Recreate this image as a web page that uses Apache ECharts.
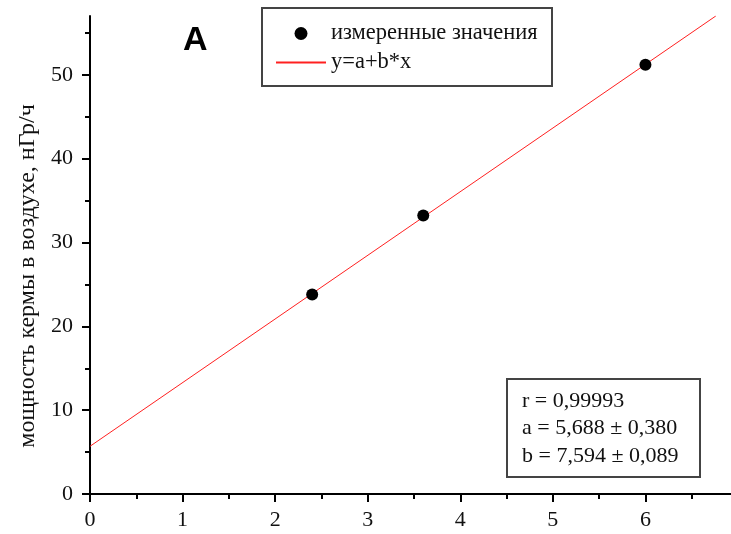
<!DOCTYPE html>
<html>
<head>
<meta charset="utf-8">
<script type="text/javascript" src="https://cdn.jsdelivr.net/npm/echarts@6/dist/echarts.min.js"></script>
<style>
	html, body {
		margin: 0;
		padding: 0;
		background: #fff;
	}
	.chart-main {
		width: 731px;
		height: 534px;
	}
</style>
</head>
<body>
<div class="chart-main" id="main"></div>
<script>
	// measured points
	var measX = [2.4, 3.6, 6.0];
	var measY = [23.8, 33.2, 51.2];

	// fitted line y=a+b*x, ends
	var fitX = [0, 6.76];
	var fitY = [5.69, 57.0];

	var statLines = ['r = 0,99993', 'a = 5,688 \u00b1 0,380', 'b = 7,594 \u00b1 0,089'];
	var legendNames = ['измеренные значения', 'y=a+b*x'];
	var yTitle = 'мощность кермы в воздухе, нГр/ч';

	var serif = '"Liberation Serif", "DejaVu Serif", serif';
	var txtColor = '#111';

	var measData = measX.map(function(x, i) { return [x, measY[i]]; });
	var fitData = fitX.map(function(x, i) { return [x, fitY[i]]; });

	var option = {
		backgroundColor: '#fff',
		animation: false,
		grid: [
			// grid 0: axis line of y ends at 57, series drawn here
			{ left: 90, right: -7, top: 16, bottom: 40, outerBoundsMode: 'none', containLabel: false },
			// grid 1: same scale, taller, carries y ticks and labels
			{ left: 90, right: -7, top: -9, bottom: 40, outerBoundsMode: 'none', containLabel: false }
		],
		xAxis: [{
			type: 'value',
			gridIndex: 0,
			min: 0,
			max: 7,
			interval: 1,
			axisLine: { show: true, onZero: false, lineStyle: { color: '#000', width: 2 } },
			axisTick: { show: true, inside: false, length: 8, lineStyle: { color: '#000', width: 2 } },
			minorTick: { show: true, splitNumber: 2, length: 5, lineStyle: { color: '#000', width: 2 } },
			splitLine: { show: false },
			axisLabel: { show: true, margin: 15, showMaxLabel: false, fontFamily: serif, fontSize: 22, color: txtColor }
		}, {
			type: 'value',
			gridIndex: 1,
			min: 0,
			max: 7,
			show: false
		}],
		yAxis: [{
			type: 'value',
			gridIndex: 0,
			min: 0,
			max: 57,
			axisLine: { show: true, onZero: false, lineStyle: { color: '#000', width: 2 } },
			axisTick: { show: false },
			axisLabel: { show: false },
			splitLine: { show: false }
		}, {
			type: 'value',
			gridIndex: 1,
			min: 0,
			max: 60,
			interval: 10,
			axisLine: { show: false },
			axisTick: { show: true, inside: false, length: 8, lineStyle: { color: '#000', width: 2 } },
			minorTick: { show: true, splitNumber: 2, length: 5, lineStyle: { color: '#000', width: 2 } },
			splitLine: { show: false },
			axisLabel: { show: true, margin: 17, showMaxLabel: false, fontFamily: serif, fontSize: 22, color: txtColor }
		}],
		legend: {
			orient: 'vertical',
			left: 275,
			top: 22,
			padding: 0,
			itemWidth: 50,
			itemHeight: 13,
			itemGap: 6,
			textStyle: { fontFamily: serif, fontSize: 22.5, color: txtColor },
			data: [
				{ name: legendNames[0], icon: 'circle' },
				{ name: legendNames[1], itemStyle: { opacity: 0 } }
			]
		},
		series: [{
			name: legendNames[0],
			type: 'scatter',
			xAxisIndex: 0,
			yAxisIndex: 0,
			symbol: 'circle',
			symbolSize: 12,
			itemStyle: { color: '#000', opacity: 1 },
			data: measData,
			z: 3
		}, {
			name: legendNames[1],
			type: 'line',
			xAxisIndex: 0,
			yAxisIndex: 0,
			symbol: 'none',
			showSymbol: false,
			lineStyle: { color: '#ff2020', width: 1 },
			itemStyle: { color: '#ff2020' },
			data: fitData,
			z: 2
		}],
		graphic: [{
			type: 'text',
			left: 183,
			top: 24,
			style: { text: 'A', font: 'bold 34px "Liberation Sans", Arial, sans-serif', fill: '#000' }
		}, {
			// legend frame
			type: 'rect',
			shape: { x: 262, y: 8, width: 290, height: 78 },
			style: { fill: 'transparent', stroke: '#444', lineWidth: 2 }
		}, {
			// stats frame
			type: 'rect',
			shape: { x: 507, y: 379, width: 193, height: 98 },
			style: { fill: '#fff', stroke: '#444', lineWidth: 2 }
		}, {
			type: 'text',
			x: 522, y: 401,
			style: { text: statLines[0], font: '22px ' + serif, fill: txtColor, align: 'left', verticalAlign: 'middle', textVerticalAlign: 'middle' }
		}, {
			type: 'text',
			x: 522, y: 428.5,
			style: { text: statLines[1], font: '22px ' + serif, fill: txtColor, align: 'left', verticalAlign: 'middle', textVerticalAlign: 'middle' }
		}, {
			type: 'text',
			x: 522, y: 456,
			style: { text: statLines[2], font: '22px ' + serif, fill: txtColor, align: 'left', verticalAlign: 'middle', textVerticalAlign: 'middle' }
		}, {
			type: 'text',
			x: 28, y: 276,
			rotation: Math.PI / 2,
			style: { text: yTitle, font: '24px ' + serif, fill: txtColor, align: 'center', textAlign: 'center', verticalAlign: 'middle', textVerticalAlign: 'middle' }
		}]
	};

	var echart = echarts.init(document.getElementById('main'));
	echart.setOption(option);
</script>
</body>
</html>
